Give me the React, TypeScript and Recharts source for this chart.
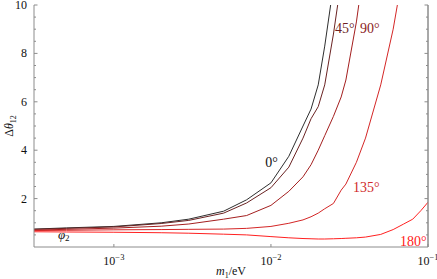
import React from 'react';
import { LineChart, Line, XAxis, YAxis, ReferenceDot, ReferenceLine, Label } from 'recharts';

// neutrino mass m1 (eV)
const mValues = [3.1e-4, 5e-4, 1e-3, 2e-3, 3e-3, 5e-3, 7e-3, 1e-2, 1.3e-2, 1.6e-2, 1.8e-2, 2e-2, 2.2e-2, 2.5e-2, 2.8e-2, 3e-2, 3.5e-2, 4e-2, 5e-2, 6e-2, 7e-2, 8e-2, 9e-2, 1e-1];

// Δθ12 for φ2 = 0°, 45°, 90°, 135°, 180°
const phi0 = [0.74, 0.79, 0.85, 1.0, 1.15, 1.48, 1.95, 2.65, 3.75, 5.0, 5.7, 6.7, 8.3, 10.8, null, null, null, null, null, null, null, null, null, null];
const phi45 = [0.73, 0.77, 0.83, 0.97, 1.1, 1.4, 1.82, 2.45, 3.3, 4.5, 5.3, 5.8, 6.7, 8.8, 11.0, null, null, null, null, null, null, null, null, null];
const phi90 = [0.7, 0.73, 0.78, 0.86, 0.95, 1.15, 1.3, 1.72, 2.3, 2.9, 3.4, 4.0, 4.6, 5.4, 6.2, 6.9, 9.3, 12.0, null, null, null, null, null, null];
const phi135 = [0.68, 0.69, 0.71, 0.72, 0.73, 0.74, 0.77, 0.85, 0.98, 1.12, 1.25, 1.4, 1.58, 1.8, 2.35, 2.6, 3.5, 4.5, 6.7, 9.0, 11.5, null, null, null];
const phi180 = [0.63, 0.62, 0.61, 0.59, 0.57, 0.53, 0.5, 0.43, 0.38, 0.35, 0.34, 0.33, 0.33, 0.34, 0.35, 0.36, 0.38, 0.41, 0.52, 0.72, 0.95, 1.15, 1.5, 1.85];

const xTicks = [1e-3, 1e-2, 1e-1];
const yMajorTicks = [2, 4, 6, 8, 10];
const yTicks = [0.5, 1, 1.5, 2, 2.5, 3, 3.5, 4, 4.5, 5, 5.5, 6, 6.5, 7, 7.5, 8, 8.5, 9, 9.5, 10];

const seriesNames = ['p0', 'p45', 'p90', 'p135', 'p180'];
const seriesValues = [phi0, phi45, phi90, phi135, phi180];
const seriesColors = ['#2e2e2e', '#6a2222', '#a41f1f', '#d42626', '#ff2020'];

// curve labels: text, m position, Δθ12 position
const curveLabels = [
  { text: '0°', m: 9.2e-3, v: 3.3, color: '#111111' },
  { text: '45°', m: 2.56e-2, v: 8.84, color: '#6e1f1f' },
  { text: '90°', m: 3.69e-2, v: 8.84, color: '#8c1c1c' },
  { text: '135°', m: 3.33e-2, v: 2.27, color: '#d02a2a' },
  { text: '180°', m: 6.64e-2, v: 0.04, color: '#ff2020' },
];
const phiLabel = { m: 4.4e-4, v: 0.33 };

const data = mValues.map((m, i) => {
  const row: Record<string, number | null> = { m };
  seriesNames.forEach((n, k) => { row[n] = seriesValues[k][i]; });
  return row;
});

const FONT = '"Liberation Serif", "Times New Roman", serif';
const FRAME = '#8c8c8c';
const XDOMAIN: [number, number] = [3.1e-4, 0.1];
const YDOMAIN: [number, number] = [0, 10];

const BottomTick = (props: any) => {
  const { x, y, payload } = props;
  const e = Math.round(Math.log10(payload.value));
  return (
    <g>
      <line x1={x} y1={y} x2={x} y2={y - 3} stroke={FRAME} strokeWidth={1} />
      <text x={x} y={y + 18} textAnchor="middle" fontFamily={FONT} fontSize={12} fill="#111">
        <tspan>10</tspan>
        <tspan dy={-5} fontSize={8.5}>{'\u2212' + Math.abs(e)}</tspan>
      </text>
    </g>
  );
};

const TopTick = (props: any) => {
  const { x, y } = props;
  return <line x1={x} y1={y} x2={x} y2={y + 3} stroke={FRAME} strokeWidth={1} />;
};

const LeftTick = (props: any) => {
  const { x, y, payload } = props;
  const major = yMajorTicks.includes(payload.value);
  return (
    <g>
      <line x1={x} y1={y} x2={x + (major ? 3.5 : 2)} y2={y} stroke={FRAME} strokeWidth={1} />
      {major && (
        <text x={x - 7} y={y + 4} textAnchor="end" fontFamily={FONT} fontSize={12} fill="#111">
          {payload.value}
        </text>
      )}
    </g>
  );
};

const RightTick = (props: any) => {
  const { x, y, payload } = props;
  const major = yMajorTicks.includes(payload.value);
  return <line x1={x} y1={y} x2={x - (major ? 3.5 : 2)} y2={y} stroke={FRAME} strokeWidth={1} />;
};

const YLabel = (props: any) => {
  const { viewBox } = props;
  const cx = viewBox.x + 13;
  const cy = viewBox.y + viewBox.height / 2;
  return (
    <text x={cx} y={cy} transform={`rotate(-90, ${cx}, ${cy})`} textAnchor="middle" fontFamily={FONT} fontSize={12} fill="#111">
      <tspan>Δ</tspan>
      <tspan fontStyle="italic">θ</tspan>
      <tspan dy={3} fontSize={8}>12</tspan>
    </text>
  );
};

const XLabel = (props: any) => {
  const { viewBox } = props;
  const cx = viewBox.x + viewBox.width / 2;
  const cy = viewBox.y + viewBox.height - 4;
  return (
    <text x={cx} y={cy} textAnchor="middle" fontFamily={FONT} fontSize={12} fill="#111">
      <tspan fontStyle="italic">m</tspan>
      <tspan dy={3} fontSize={8}>1</tspan>
      <tspan dy={-3}>/eV</tspan>
    </text>
  );
};

export default function App() {
  return (
    <div style={{ position: 'absolute', left: 0, top: 0, width: 437, height: 279, background: '#fff' }}>
      <LineChart width={437} height={279} data={data} margin={{ top: 5, right: 8, bottom: 0, left: 0 }}>
        <XAxis
          dataKey="m"
          type="number"
          scale="log"
          domain={XDOMAIN}
          allowDataOverflow
          ticks={xTicks}
          interval={0}
          height={32}
          tickSize={0}
          tickMargin={0}
          tickLine={false}
          axisLine={{ stroke: FRAME }}
          tick={<BottomTick />}
        >
          <Label content={<XLabel />} />
        </XAxis>
        <XAxis
          xAxisId="top"
          orientation="top"
          dataKey="m"
          type="number"
          scale="log"
          domain={XDOMAIN}
          allowDataOverflow
          ticks={xTicks}
          interval={0}
          height={0}
          tickSize={0}
          tickMargin={0}
          tickLine={false}
          axisLine={{ stroke: FRAME }}
          tick={<TopTick />}
        />
        <YAxis
          type="number"
          domain={YDOMAIN}
          allowDataOverflow
          ticks={yTicks}
          interval={0}
          width={34}
          tickSize={0}
          tickMargin={0}
          tickLine={false}
          axisLine={{ stroke: FRAME }}
          tick={<LeftTick />}
        >
          <Label content={<YLabel />} />
        </YAxis>
        <YAxis
          yAxisId="right"
          orientation="right"
          type="number"
          domain={YDOMAIN}
          allowDataOverflow
          ticks={yTicks}
          interval={0}
          width={1}
          tickSize={0}
          tickMargin={0}
          tickLine={false}
          axisLine={{ stroke: FRAME, strokeWidth: 1 }}
          tick={<RightTick />}
        />
        <ReferenceLine x={XDOMAIN[1]} stroke={FRAME} strokeWidth={1} ifOverflow="visible" />
        {seriesNames.map((n, k) => (
          <Line
            key={n}
            dataKey={n}
            type="linear"
            stroke={seriesColors[k]}
            strokeWidth={1}
            dot={false}
            activeDot={false}
            isAnimationActive={false}
          />
        ))}
        {curveLabels.map((l) => (
          <ReferenceDot
            key={l.text}
            x={l.m}
            y={l.v}
            r={0}
            ifOverflow="visible"
            shape={(p: any) => (
              <text x={p.cx} y={p.cy} fontFamily={FONT} fontSize={14} fill={l.color}>
                {l.text}
              </text>
            )}
          />
        ))}
        <ReferenceDot
          x={phiLabel.m}
          y={phiLabel.v}
          r={0}
          ifOverflow="visible"
          shape={(p: any) => (
            <text x={p.cx} y={p.cy} fontFamily={FONT} fontSize={13} fill="#111">
              <tspan fontStyle="italic">φ</tspan>
              <tspan dy={2} fontSize={9}>2</tspan>
            </text>
          )}
        />
      </LineChart>
    </div>
  );
}
